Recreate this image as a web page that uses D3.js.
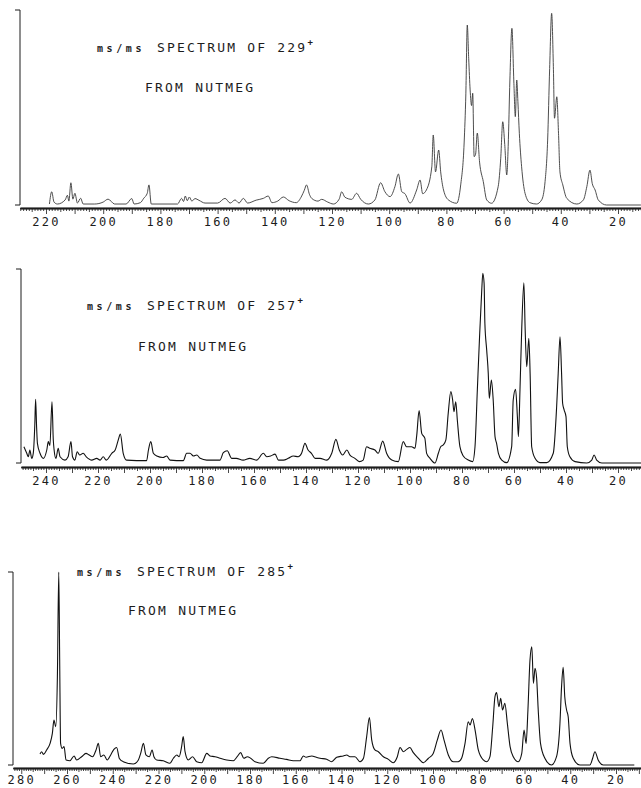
<!DOCTYPE html>
<html>
<head>
<meta charset="utf-8">
<script src="https://cdn.jsdelivr.net/npm/d3@7/dist/d3.min.js"></script>
<style>
  body { margin: 0; background: #fff; }
  text { font-family: "DejaVu Sans Mono", monospace; fill: #1c1c1c; }
  .domain, .tick line { stroke: #1c1c1c; }
</style>
</head>
<body>
<div class="fig"></div>
<script>
// ms/ms spectra, [m/z, relative intensity %]
var spec229 = [
  [218.8, 0.5], [218.0, 6.8], [217.2, 1.5], [216.0, 0.5], [213.3, 2.6], [212.5, 5.0], [212.0, 2.0],
  [211.3, 11.4], [210.6, 3.0], [209.9, 6.0], [209.0, 1.0], [207.9, 3.5], [207.0, 0.5], [203.0, 0.5],
  [200.0, 1.5], [198.3, 3.0], [196.0, 0.5], [192.0, 0.5], [190.0, 3.3], [189.2, 0.5], [187.0, 1.2],
  [185.8, 3.5], [184.6, 6.0], [184.0, 10.3], [183.2, 0.5], [174.0, 0.5], [172.6, 3.4], [171.9, 1.8],
  [171.3, 4.6], [170.6, 2.2], [169.9, 4.1], [169.0, 2.0], [167.9, 3.3], [166.5, 2.4], [164.4, 1.0],
  [160.0, 1.0], [157.4, 3.4], [155.6, 1.0], [153.9, 2.6], [152.5, 1.0], [151.0, 3.4], [149.5, 1.0],
  [146.5, 2.5], [144.0, 3.4], [142.3, 4.6], [141.0, 1.2], [139.0, 2.0], [137.0, 4.1], [135.0, 2.2],
  [132.5, 1.2], [130.6, 4.6], [129.7, 7.5], [128.9, 10.3], [127.9, 5.5], [127.1, 3.4], [124.9, 2.0],
  [123.6, 2.9], [121.5, 1.5], [119.5, 0.5], [117.5, 3.0], [116.6, 6.8], [115.5, 4.0], [113.1, 2.9],
  [111.4, 6.0], [110.0, 3.0], [107.3, 0.5], [105.0, 2.6], [103.0, 11.4], [101.5, 6.8], [99.7, 4.3],
  [98.0, 9.4], [96.8, 15.9], [95.6, 6.8], [94.5, 5.8], [92.7, 1.0], [90.4, 7.7], [89.2, 12.8],
  [88.3, 5.8], [87.0, 7.7], [85.1, 19.6], [84.6, 35.9], [83.8, 17.0], [82.7, 28.2], [82.0, 17.0],
  [81.0, 7.7], [79.3, 2.6], [76.4, 0.9], [75.0, 10.3], [73.8, 31.8], [73.2, 57.0], [72.7, 92.3],
  [72.2, 75.0], [71.7, 59.0], [71.2, 51.0], [70.8, 57.3], [70.3, 24.8], [69.8, 26.0], [69.2, 36.9],
  [68.4, 22.0], [67.1, 12.0], [65.9, 2.6], [64.2, 0.9], [61.9, 9.4], [61.0, 24.0], [60.3, 42.7],
  [59.6, 31.0], [58.9, 15.4], [58.4, 30.0], [57.8, 64.1], [57.1, 90.6], [56.4, 62.4], [55.9, 45.3],
  [55.4, 64.1], [55.0, 53.0], [54.5, 36.8], [53.7, 19.6], [52.5, 6.0], [50.8, 1.2], [48.5, 0.5],
  [46.7, 2.6], [45.5, 12.0], [44.6, 33.3], [43.9, 70.0], [43.2, 98.3], [42.6, 70.9], [42.2, 44.5],
  [41.4, 55.5], [40.8, 36.8], [40.3, 17.0], [39.3, 10.3], [37.9, 3.4], [34.4, 0.5], [32.1, 2.6],
  [30.9, 9.4], [29.8, 17.9], [29.0, 11.0], [28.0, 7.7], [26.9, 2.6], [24.0, 0.0], [12.0, 0.0]
];

var spec257 = [
  [248.5, 8.4], [247.4, 5.0], [246.8, 3.2], [246.2, 6.7], [245.5, 2.4], [244.9, 5.0], [244.3, 20.0],
  [244.0, 32.8], [243.6, 18.0], [243.3, 10.1], [242.3, 5.0], [241.0, 2.4], [239.7, 6.7], [239.1, 11.0],
  [238.5, 9.0], [237.7, 31.6], [237.2, 12.0], [236.9, 7.0], [236.2, 2.4], [235.3, 7.6], [234.6, 3.2],
  [232.7, 1.5], [231.5, 3.2], [230.4, 11.0], [229.8, 3.2], [228.9, 1.5], [228.0, 5.8], [227.0, 4.1],
  [225.7, 5.0], [224.5, 3.2], [222.4, 1.5], [220.5, 2.4], [219.2, 1.5], [218.0, 3.2], [216.8, 1.5],
  [214.7, 5.0], [213.4, 6.7], [212.2, 11.9], [211.4, 14.9], [210.3, 5.0], [209.0, 1.5], [201.3, 1.2],
  [200.6, 6.7], [199.7, 11.0], [198.7, 5.0], [197.4, 3.6], [195.0, 2.8], [193.6, 3.6], [192.3, 1.5],
  [187.2, 1.2], [185.9, 5.0], [184.6, 5.0], [183.3, 3.6], [182.0, 4.1], [180.7, 2.4], [178.2, 1.5],
  [173.1, 1.5], [171.8, 5.3], [170.3, 6.3], [168.6, 2.4], [166.8, 2.4], [164.2, 1.5], [161.6, 2.4],
  [159.0, 1.5], [156.4, 5.0], [155.1, 3.2], [153.6, 3.6], [151.9, 4.6], [150.6, 1.5], [148.7, 1.5],
  [146.8, 2.4], [144.9, 3.6], [143.0, 3.2], [141.7, 5.0], [140.4, 10.1], [139.2, 6.7], [137.9, 5.0],
  [136.5, 2.4], [134.6, 2.4], [132.0, 1.5], [130.1, 5.0], [128.5, 12.2], [127.2, 6.7], [125.9, 4.1],
  [124.3, 6.7], [123.1, 4.1], [121.2, 2.4], [119.5, 0.7], [118.0, 1.5], [116.7, 8.4], [115.5, 7.6],
  [113.5, 6.7], [112.2, 5.0], [110.5, 11.3], [109.0, 5.0], [107.0, 1.5], [104.5, 0.7], [102.6, 11.0],
  [101.3, 8.4], [99.4, 8.4], [98.1, 7.6], [97.4, 14.4], [96.5, 27.0], [95.5, 15.3], [94.3, 12.8],
  [93.6, 5.0], [92.3, 2.4], [90.4, 0.0], [89.1, 5.0], [88.2, 8.4], [87.2, 9.3], [86.2, 11.9],
  [85.3, 25.6], [84.3, 36.8], [83.6, 32.5], [83.1, 26.4], [82.4, 31.6], [81.8, 22.2], [80.8, 8.4],
  [79.5, 3.6], [77.6, 1.5], [75.9, 0.7], [75.0, 8.4], [74.1, 37.6], [73.3, 63.4], [72.4, 89.2],
  [72.0, 97.8], [71.5, 92.6], [71.2, 72.0], [70.5, 58.2], [69.9, 46.2], [69.5, 33.3], [68.7, 42.8],
  [68.0, 32.5], [67.3, 13.6], [66.7, 10.1], [66.0, 5.0], [64.7, 1.5], [62.8, 0.2], [60.9, 8.4],
  [60.3, 32.5], [59.4, 38.0], [58.7, 23.9], [58.3, 13.6], [57.7, 37.6], [57.0, 70.3], [56.2, 92.9],
  [55.7, 68.6], [55.1, 49.6], [54.3, 64.3], [53.8, 46.2], [53.2, 8.4], [51.9, 2.4], [50.0, 0.2],
  [47.4, 0.2], [44.9, 5.0], [43.6, 29.0], [43.0, 46.2], [42.3, 65.1], [41.7, 46.2], [41.3, 30.8],
  [40.7, 27.3], [40.0, 23.9], [39.5, 8.4], [38.5, 3.2], [36.5, 0.7], [32.0, 0.0], [30.1, 1.5],
  [29.2, 4.1], [28.2, 1.5], [26.2, 0.0], [10.0, 0.0]
];

var spec285 = [
  [271.8, 5.7], [271.1, 6.9], [270.3, 5.5], [268.9, 7.8], [267.4, 11.2], [266.4, 16.4], [265.7, 23.3],
  [264.9, 19.8], [264.2, 45.8], [263.6, 100.0], [263.2, 54.4], [262.8, 11.2], [262.1, 8.6], [261.3, 9.5],
  [260.4, 2.6], [258.7, 2.2], [256.9, 4.7], [255.8, 2.6], [253.6, 4.3], [251.7, 6.0], [250.3, 5.2],
  [248.8, 4.3], [247.3, 7.8], [246.3, 11.2], [245.3, 4.3], [243.9, 5.2], [242.4, 2.6], [240.9, 5.2],
  [239.5, 8.1], [238.3, 9.1], [237.1, 3.4], [235.4, 1.7], [231.0, 0.5], [228.8, 2.6], [227.8, 6.0],
  [226.6, 11.2], [225.5, 5.2], [224.0, 4.3], [222.8, 7.8], [222.0, 4.3], [220.8, 2.6], [217.9, 2.2],
  [215.0, 0.9], [213.5, 3.5], [212.0, 5.2], [211.0, 4.3], [209.9, 9.5], [209.2, 14.7], [208.4, 6.9],
  [207.0, 2.6], [205.1, 4.3], [203.3, 1.7], [201.1, 1.2], [198.9, 6.0], [197.5, 4.7], [195.3, 4.3],
  [193.1, 3.5], [190.2, 2.6], [187.3, 2.2], [185.6, 4.3], [184.1, 6.4], [182.7, 3.5], [181.2, 4.3],
  [179.7, 3.5], [177.8, 1.7], [174.2, 0.9], [172.0, 3.5], [170.5, 4.3], [166.9, 3.5], [164.0, 2.9],
  [161.1, 2.2], [158.1, 2.2], [156.7, 4.7], [155.5, 4.0], [153.0, 4.7], [151.0, 4.0], [149.4, 3.5],
  [146.5, 3.0], [144.3, 1.7], [142.1, 4.0], [139.2, 4.7], [137.7, 5.2], [136.3, 4.3], [134.1, 4.3],
  [131.9, 1.7], [130.4, 3.5], [129.0, 14.7], [127.8, 24.6], [126.8, 13.0], [125.4, 7.8], [123.9, 6.9],
  [121.7, 4.3], [119.5, 2.9], [117.4, 1.2], [115.6, 4.3], [114.4, 9.1], [113.0, 6.9], [111.5, 8.1],
  [110.1, 9.1], [108.6, 6.4], [106.4, 3.5], [104.2, 1.2], [102.0, 3.5], [99.9, 6.0], [98.1, 13.0],
  [96.5, 18.1], [95.2, 13.0], [93.3, 5.2], [91.1, 1.7], [89.0, 1.7], [87.5, 3.5], [86.0, 11.2],
  [84.6, 22.4], [83.8, 20.7], [82.8, 24.1], [81.6, 18.1], [80.2, 7.8], [78.0, 2.6], [76.5, 1.7],
  [75.1, 4.3], [73.9, 19.8], [72.9, 35.4], [72.2, 37.5], [71.2, 30.2], [70.4, 34.5], [69.6, 28.5],
  [68.6, 32.0], [67.5, 21.6], [66.3, 9.5], [64.9, 4.3], [62.7, 1.7], [61.2, 6.0], [60.2, 18.1],
  [59.3, 11.2], [58.5, 28.5], [57.6, 54.4], [56.8, 61.3], [56.1, 42.3], [55.4, 50.1], [54.7, 45.0],
  [54.0, 28.5], [53.0, 11.2], [51.1, 3.5], [48.2, 0.0], [46.0, 4.3], [44.5, 21.6], [43.8, 40.6],
  [43.1, 50.6], [42.4, 35.4], [41.6, 28.5], [40.9, 25.0], [40.1, 11.2], [38.7, 3.5], [35.8, 0.0],
  [31.4, 0.0], [30.2, 3.5], [29.2, 6.9], [27.8, 2.6], [25.6, 0.0], [12.0, 0.0]
];

var ticks229 = [220, 200, 180, 160, 140, 120, 100, 80, 60, 40, 20];
var ticks257 = [240, 220, 200, 180, 160, 140, 120, 100, 80, 60, 40, 20];
var ticks285 = [280, 260, 240, 220, 200, 180, 160, 140, 120, 100, 80, 60, 40, 20];

var ions = ['229', '257', '285'];
var source = 'FROM NUTMEG';

var w = 641,
    h = 788;

var svg = d3.select('.fig').append('svg').attr('width', w).attr('height', h);

var panels = [
  { data: spec229, ticks: ticks229, ion: ions[0], left: 20, top: 10, base: 205, axisY: 208, pad: 3,
    a: [220, 46], b: [20, 618], tx: 97, ty: 52, sx: 145, sy: 92, ink: '#3a3a3a', pen: 0.9 },
  { data: spec257, ticks: ticks257, ion: ions[1], left: 21, top: 269, base: 463, axisY: 467, pad: 3,
    a: [240, 46], b: [20, 618], tx: 87, ty: 310, sx: 138, sy: 351, ink: '#111', pen: 1.1 },
  { data: spec285, ticks: ticks285, ion: ions[2], left: 13, top: 572, base: 765, axisY: 768, pad: 1,
    a: [260, 67], b: [20, 616], tx: 77, ty: 576, sx: 128, sy: 615, ink: '#111', pen: 1.1 }
];

panels.forEach(function (p) { drawPanel(p); });

function drawPanel(p) {
  var g = svg.append('g');

  // m/z runs right to left
  var x = d3.scaleLinear().domain([p.a[0], p.b[0]]).range([p.a[1], p.b[1]]);
  x.domain([x.invert(p.left), x.invert(w)]).range([p.left, w]);
  var y = d3.scaleLinear().domain([0, 100]).range([p.base, p.top]);

  // "]" shaped intensity bracket
  g.append('path')
    .attr('d', 'M' + (p.left - 5) + ',' + p.top + 'H' + p.left + 'V' + p.base + 'H' + (p.left - 5))
    .attr('fill', 'none')
    .attr('stroke', '#1c1c1c')
    .attr('stroke-width', 1);

  var hi = Math.floor(x.domain()[0]),
      lo = Math.ceil(x.domain()[1]);
  var all = d3.range(lo, hi + 1);

  var ax = g.append('g').attr('transform', 'translate(0,' + p.axisY + ')');
  ax.append('g').call(d3.axisBottom(x)
      .tickValues(all.filter(function (d) { return d % 5 !== 0; }))
      .tickSize(3).tickSizeOuter(0).tickFormat(''));
  ax.append('g').call(d3.axisBottom(x)
      .tickValues(all.filter(function (d) { return d % 5 === 0 && d % 10 !== 0; }))
      .tickSize(4).tickSizeOuter(0).tickFormat(''));
  ax.append('g').call(d3.axisBottom(x)
      .tickValues(all.filter(function (d) { return d % 10 === 0; }))
      .tickSize(6).tickSizeOuter(0).tickPadding(p.pad)
      .tickFormat(function (d) { return p.ticks.indexOf(d) >= 0 ? d : ''; }));
  ax.selectAll('.domain').attr('stroke-width', 1.4);
  ax.selectAll('.tick line').attr('stroke-width', 0.8);
  ax.selectAll('.tick text')
    .style('font-size', '12px')
    .style('letter-spacing', '2.3px');

  var line = d3.line()
    .x(function (d) { return x(d[0]); })
    .y(function (d) { return y(d[1]); })
    .curve(d3.curveMonotoneX);

  g.append('path')
    .datum(p.data)
    .attr('d', line)
    .attr('fill', 'none')
    .attr('stroke', p.ink)
    .attr('stroke-width', p.pen)
    .attr('stroke-linejoin', 'round');

  // titles
  var t = g.append('text').attr('y', p.ty);
  t.append('tspan').attr('x', p.tx)
    .style('font-size', '10px').style('font-weight', 'bold').style('letter-spacing', '3.6px')
    .text('ms/ms');
  t.append('tspan').attr('x', p.tx + 60)
    .style('font-size', '13px').style('letter-spacing', '2.2px')
    .text('SPECTRUM OF ' + p.ion);
  t.append('tspan').attr('dy', -7)
    .style('font-size', '9px').style('font-weight', 'bold')
    .text('+');

  g.append('text')
    .attr('x', p.sx)
    .attr('y', p.sy)
    .style('font-size', '13px')
    .style('letter-spacing', '2.2px')
    .text(source);
}
</script>
</body>
</html>
